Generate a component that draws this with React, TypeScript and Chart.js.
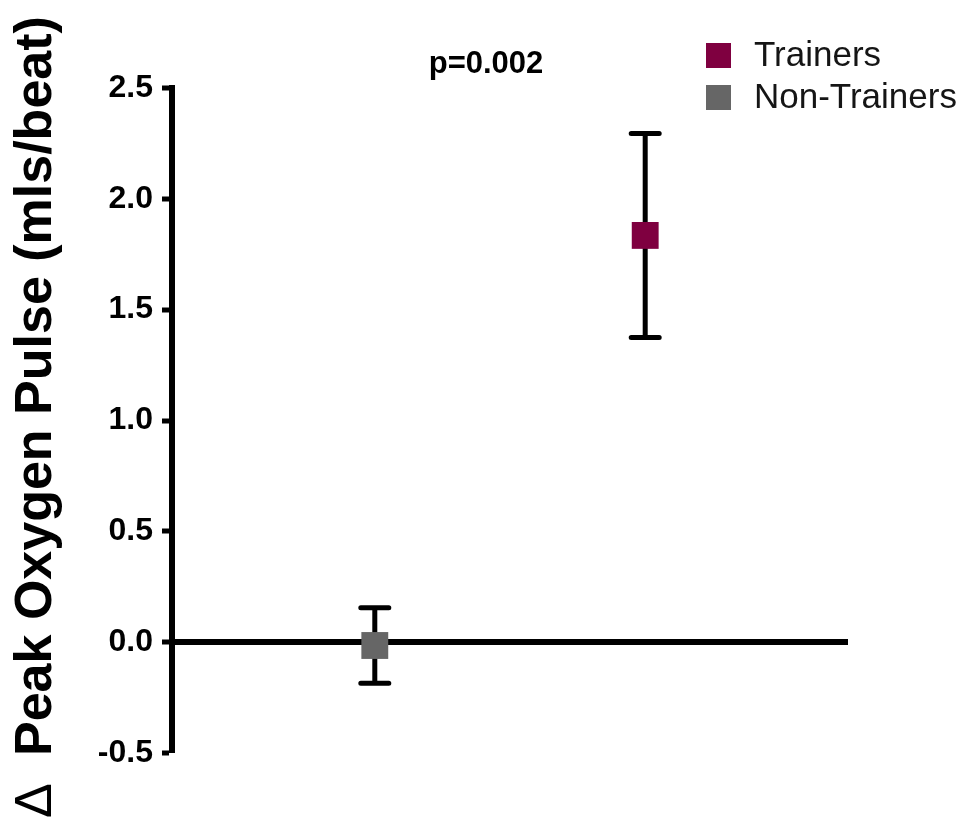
import React, { useEffect, useRef } from 'react';
import { Chart, registerables } from 'chart.js';

Chart.register(...registerables);

// ---- data ----
const groups = ['Trainers', 'Non-Trainers'];
const groupIndex = [1, 0]; // category position on the x axis (0 = left group, 1 = right group)
const meanChange = [1.835, -0.015];
const errorSEM = [0.46, 0.17];
const groupColors = ['#7f0040', '#666666'];
const yTicks = [-0.5, 0, 0.5, 1.0, 1.5, 2.0, 2.5];
const pValueText = 'p=0.002';
const yTitleSymbol = 'Δ';
const yTitleText = 'Peak Oxygen Pulse (mls/beat)';

const FONT = '"Liberation Sans", Arial, Helvetica, sans-serif';

const errorBarPlugin = {
  id: 'errorBars',
  beforeDatasetsDraw(chart: any) {
    const { ctx } = chart;
    const xs = chart.scales.x;
    const ys = chart.scales.y;
    ctx.save();
    ctx.strokeStyle = '#000';
    ctx.lineWidth = 5;
    ctx.lineCap = 'round';
    groups.forEach((_, i) => {
      const x = xs.getPixelForValue(groupIndex[i]);
      const yt = ys.getPixelForValue(meanChange[i] + errorSEM[i]);
      const yb = ys.getPixelForValue(meanChange[i] - errorSEM[i]);
      ctx.beginPath();
      ctx.moveTo(x, yt);
      ctx.lineTo(x, yb);
      ctx.moveTo(x - 14, yt);
      ctx.lineTo(x + 14, yt);
      ctx.moveTo(x - 14, yb);
      ctx.lineTo(x + 14, yb);
      ctx.stroke();
    });
    ctx.restore();
  },
};

const annotationsPlugin = {
  id: 'annotations',
  afterDraw(chart: any) {
    const { ctx } = chart;
    ctx.save();
    // p-value
    ctx.fillStyle = '#000';
    ctx.font = `bold 31px ${FONT}`;
    ctx.textAlign = 'center';
    ctx.textBaseline = 'alphabetic';
    ctx.fillText(pValueText, 486, 73);

    // legend
    groups.forEach((g, i) => {
      const yTop = 43 + i * 42;
      ctx.fillStyle = groupColors[i];
      ctx.fillRect(706, yTop, 25, 25);
      ctx.fillStyle = '#151515';
      ctx.font = `35px ${FONT}`;
      ctx.textAlign = 'left';
      ctx.textBaseline = 'middle';
      ctx.fillText(g, 754, yTop + 13);
    });

    // y-axis title
    ctx.translate(51, 818);
    ctx.rotate(-Math.PI / 2);
    ctx.textAlign = 'left';
    ctx.textBaseline = 'alphabetic';
    ctx.fillStyle = '#000';
    ctx.font = `52px ${FONT}`;
    ctx.fillText(yTitleSymbol, 0, 0);
    ctx.font = `bold 52px ${FONT}`;
    ctx.fillText(yTitleText, 62, 0);
    ctx.restore();
  },
};

export default function App() {
  const canvasRef = useRef<HTMLCanvasElement | null>(null);

  useEffect(() => {
    if (!canvasRef.current) return;
    const chart = new Chart(canvasRef.current, {
      type: 'scatter',
      data: {
        datasets: groups.map((g, i) => ({
          label: g,
          data: [{ x: groupIndex[i], y: meanChange[i] }],
          backgroundColor: groupColors[i],
          borderColor: groupColors[i],
          borderWidth: 0,
          pointStyle: 'rect',
          pointRadius: 19,
          pointHoverRadius: 19,
        })),
      },
      options: {
        animation: false,
        responsive: true,
        maintainAspectRatio: false,
        layout: { padding: { left: 0, right: 117, top: 88, bottom: 69 } },
        plugins: {
          legend: { display: false },
          tooltip: { enabled: false },
          title: { display: false },
        },
        scales: {
          x: {
            type: 'linear',
            min: -0.75,
            max: 1.75,
            display: false,
          },
          y: {
            type: 'linear',
            min: -0.5,
            max: 2.5,
            afterBuildTicks: (scale: any) => {
              scale.ticks = yTicks.map((v) => ({ value: v }));
            },
            afterFit: (scale: any) => {
              scale.width = 172;
            },
            border: { display: true, color: '#000', width: 6 },
            grid: {
              drawOnChartArea: true,
              drawTicks: true,
              tickLength: 10,
              tickColor: '#000',
              tickWidth: 5,
              color: (c: any) => (c.tick && c.tick.value === 0 ? '#000' : 'rgba(0,0,0,0)'),
              lineWidth: (c: any) => (c.tick && c.tick.value === 0 ? 6 : 0),
            },
            ticks: {
              color: '#000',
              padding: 9,
              font: { family: FONT, size: 32, weight: 'bold' },
              callback: (v: any) => Number(v).toFixed(1),
            },
          },
        },
      },
      plugins: [errorBarPlugin, annotationsPlugin],
    });
    return () => chart.destroy();
  }, []);

  return (
    <div style={{ position: 'absolute', left: 0, top: 0, width: 965, height: 822, background: '#fff' }}>
      <canvas ref={canvasRef} />
    </div>
  );
}
